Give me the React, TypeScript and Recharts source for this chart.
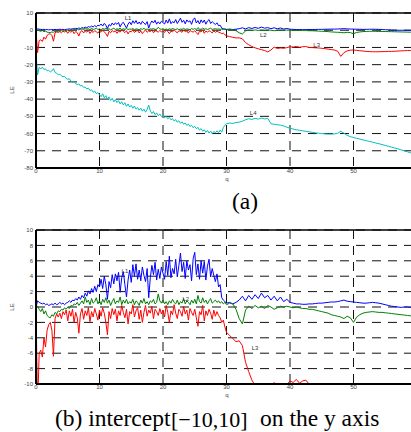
import React from 'react';
import { LineChart, Line, XAxis, YAxis, CartesianGrid, ReferenceLine, ReferenceDot } from 'recharts';

// q values: 0..30 step 0.25, then 30.5..60 step 0.5
const q = [
  0, 0.25, 0.5, 0.75, 1, 1.25, 1.5, 1.75, 2, 2.25, 2.5, 2.75, 3, 3.25, 3.5, 3.75, 4, 4.25, 4.5, 4.75,
  5, 5.25, 5.5, 5.75, 6, 6.25, 6.5, 6.75, 7, 7.25, 7.5, 7.75, 8, 8.25, 8.5, 8.75, 9, 9.25, 9.5, 9.75,
  10, 10.25, 10.5, 10.75, 11, 11.25, 11.5, 11.75, 12, 12.25, 12.5, 12.75, 13, 13.25, 13.5, 13.75, 14, 14.25, 14.5, 14.75,
  15, 15.25, 15.5, 15.75, 16, 16.25, 16.5, 16.75, 17, 17.25, 17.5, 17.75, 18, 18.25, 18.5, 18.75, 19, 19.25, 19.5, 19.75,
  20, 20.25, 20.5, 20.75, 21, 21.25, 21.5, 21.75, 22, 22.25, 22.5, 22.75, 23, 23.25, 23.5, 23.75, 24, 24.25, 24.5, 24.75,
  25, 25.25, 25.5, 25.75, 26, 26.25, 26.5, 26.75, 27, 27.25, 27.5, 27.75, 28, 28.25, 28.5, 28.75, 29, 29.25, 29.5, 29.75,
  30,
  30.5, 31, 31.5, 32, 32.5, 33, 33.5, 34, 34.5, 35, 35.5, 36, 36.5, 37, 37.5, 38, 38.5, 39, 39.5, 40,
  40.5, 41, 41.5, 42, 42.5, 43, 43.5, 44, 44.5, 45, 45.5, 46, 46.5, 47, 47.5, 48, 48.5, 49, 49.5, 50,
  50.5, 51, 51.5, 52, 52.5, 53, 53.5, 54, 54.5, 55, 55.5, 56, 56.5, 57, 57.5, 58, 58.5, 59, 59.5, 60,
];

const L1 = [
  0, 0.8, 0.6, 0.5, 0.4, 0.5, 0.3, 0.4, 0.2, 0.3, 0.4, 0.3, 0.5, 0.3, 0.4, 0.6, 0.4, 0.5, 0.3, 0.5,
  0.6, 0.8, 0.6, 0.9, 0.8, 1.1, 0.9, 1.3, 1.0, 1.5, 1.2, 1.8, 1.4, 2.1, 1.7, 2.4, 1.9, 2.7, 2.0, 2.9,
  2.6, 3.6, 2.4, 4.0, 2.9, 1.0, 3.3, 2.5, 4.2, 3.0, 4.3, 3.4, 4.5, 1.9, 3.8, 4.6, 2.9, 1.3, 3.5, 4.8,
  3.2, 5.5, 4.0, 5.6, 3.6, 4.8, 3.4, 5.2, 4.1, 3.3, 5.0, 1.2, 3.8, 5.4, 4.2, 5.8, 3.5, 4.9, 3.7, 5.2,
  4.4, 3.6, 5.9, 4.1, 6.6, 3.8, 5.0, 4.3, 6.2, 3.9, 5.4, 7.0, 4.6, 5.8, 3.7, 6.0, 4.8, 5.5, 3.4, 6.3,
  7.1, 4.2, 5.6, 3.6, 6.0, 4.4, 5.9, 3.5, 5.3, 6.2, 3.9, 5.0, 4.1, 3.3, 4.3, 2.6, 2.9, 1.2, 0.9, 0.7,
  0.5,
  0.6, 0.4, 0.6, 0.9, 1.4, 0.8, 1.5, 1.0, 1.6, 1.1, 1.8, 1.2, 1.5, 0.9, 1.4, 0.8, 1.3, 0.7, 1.0, 0.6,
  0.5, 0.4, 0.4, 0.35, 0.35, 0.4, 0.4, 0.45, 0.5, 0.5, 0.55, 0.6, 0.65, 0.65, 0.7, 0.8, 0.9, 0.75, 0.7, 0.65,
  0.6, 0.55, 0.5, 0.5, 0.55, 0.6, 0.55, 0.5, 0.4, 0.3, 0.2, 0.1, 0.05, 0, -0.05, 0, 0, -0.05, 0, 0,
];

const L2 = [
  0, 0.1, -0.3, -0.6, -0.2, -0.9, -0.5, -1.1, -1.3, -1.4, -1.0, -1.2, -0.7, -0.9, -0.5, -0.6, -0.3, -0.4, -0.1, -0.3,
  0, -0.2, 0.2, 0.1, 0.4, 0.3, 0.6, 0.2, 0.5, 0.8, 0.4, 1.3, 0.6, 0.9, 0.3, 1.1, 0.5, 0.7, 1.2, 0.4,
  0.8, 0.3, 1.0, 0.6, 1.2, 0.5, 0.9, 0.2, 0.7, 1.1, 0.4, 0.8, 0.6, 1.3, 0.3, 0.9, 0.5, 1.0, 0.4, 0.7,
  0.5, 1.0, 0.3, 0.8, 0.6, 0.2, 0.9, 0.5, 1.1, 0.4, 0.7, 0.3, 0.8, 0.6, 1.0, 0.4, 0.6, 1.7, 0.8, 0.5,
  0.9, 0.4, 0.7, 0.3, 0.8, 0.5, 1.0, 0.6, 0.4, 0.9, 0.3, 0.7, 0.5, 1.1, 0.4, 0.8, 0.6, 0.3, 0.9, 0.5,
  1.0, 0.4, 1.5, 0.7, 0.5, 1.2, 0.6, 0.9, 0.4, 0.8, 1.1, 0.5, 0.7, 0.9, 0.6, 0.8, 0.5, 0.7, 0.4, 0.6,
  0.3,
  0.5, 0.4, -0.3, -1.5, -2.2, -0.4, 0.1, -0.2, 0.2, -0.1, 0.1, -0.2, 0.2, 0, -0.3, -0.1, 0.1, 0, 0.1, 0,
  -0.1, 0, -0.1, -0.2, -0.2, -0.3, -0.3, -0.4, -0.5, -0.6, -0.7, -0.8, -1.0, -1.1, -1.2, -1.3, -1.5, -1.2, -1.4, -2.0,
  -1.3, -1.0, -0.8, -0.7, -0.65, -0.6, -0.65, -0.7, -0.7, -0.75, -0.8, -0.85, -0.9, -0.95, -1.0, -1.05, -1.1, -1.15, -1.2, -1.25,
];

const L3 = [
  0, -13, -6.0, -5.6, -6.5, -4.0, -5.2, -3.0, -2.3, -2.0, -3.0, -6.4, -1.5, -0.9, -1.3, -0.8, -1.5, -0.6, -1.0, -0.4,
  -1.8, -0.5, -1.2, -0.3, -2.0, -0.7, -1.4, -3.4, -0.9, -0.2, -1.6, -0.5, -1.1, -0.1, -1.9, -0.6, -1.3, -0.2, -0.9, -1.7,
  -0.4, -1.2, -0.1, -0.8, -2.0, -3.6, -0.6, -1.5, -0.2, -1.0, -0.3, -1.8, -0.5, -1.1, 0.2, -0.7, -1.4, -0.3, -2.2, -0.6,
  -0.9, 0.3, -1.3, -0.5, -0.1, -1.6, -0.4, -2.0, -0.7, 0.2, -1.2, -0.4, -0.8, 0.1, -1.5, -0.3, -0.6, -1.1, -0.2, -0.9,
  -0.4, -1.3, 0.2, -0.7, -2.0, -0.5, -1.0, 0.3, -0.8, -1.5, -0.3, -0.6, -1.2, 0.1, -0.9, -0.4, -1.7, -0.2, -0.7, -1.1,
  -0.3, -1.4, -2.5, -0.6, -1.0, 0.2, -1.8, -0.5, -1.1, -0.3, -0.8, -1.6, -0.4, -1.2, -0.6, -1.1, -1.4, -2.0, -1.7, -2.6,
  -3.3,
  -3.7, -4.1, -4.5, -4.4, -5.0, -7.2, -8.4, -9.5, -10.2, -10.8, -11.3, -11.8, -12.6, -11.5, -9.8, -10.6, -10.3, -10.5, -10.1, -9.6,
  -9.8, -9.4, -9.9, -9.6, -9.5, -10.0, -10.1, -10.2, -10.3, -10.5, -10.7, -11.0, -11.2, -11.5, -12.2, -15.2, -13.0, -12.0, -11.6, -11.5,
  -11.7, -11.9, -12.1, -12.3, -12.4, -12.5, -12.5, -12.5, -12.4, -12.4, -12.3, -12.3, -12.2, -12.1, -12.0, -11.9, -11.8, -11.8, -11.7, -11.7,
];

const L4 = [
  -13, -26, -21.5, -22.5, -21.4, -22.8, -22.4, -23.6, -23.3, -24.2, -23.6, -22.3, -24.5, -25.0, -25.8, -25.5, -26.5, -27.0, -26.8, -28.0,
  -28.5, -28.2, -29.5, -30.2, -29.8, -31.0, -31.5, -31.2, -32.4, -32.0, -33.2, -33.0, -34.1, -33.6, -35.0, -34.6, -36.0, -35.4, -36.8, -36.2,
  -37.5, -38.6, -36.9, -39.2, -38.0, -40.1, -38.7, -40.8, -39.5, -41.6, -40.2, -42.0, -40.9, -42.8, -41.5, -43.4, -42.1, -44.2, -42.8, -44.6,
  -43.6, -45.3, -44.0, -45.8, -44.9, -46.5, -45.2, -47.0, -45.8, -47.6, -46.0, -43.5, -46.8, -48.4, -47.2, -49.0, -48.0, -49.6, -48.6, -50.1,
  -49.4, -50.8, -50.0, -51.4, -50.6, -52.0, -51.3, -52.7, -51.9, -53.4, -52.6, -54.0, -53.2, -54.6, -53.9, -55.3, -54.5, -55.9, -55.2, -56.6,
  -55.8, -57.2, -56.4, -58.0, -57.1, -58.6, -57.8, -59.3, -58.2, -59.7, -58.5, -60.0, -58.8, -59.6, -58.4, -59.5, -58.0, -59.2, -56.5, -55.2,
  -54.3,
  -53.9, -54.1, -53.6, -53.4, -52.8, -52.0, -51.4, -51.8, -51.2, -51.6, -51.0, -51.5, -51.2, -54.3, -54.6, -54.9, -55.1, -55.6, -56.3, -56.9,
  -57.4, -57.8, -58.1, -58.4, -58.7, -59.0, -59.3, -59.6, -59.8, -60.0, -60.2, -60.3, -60.3, -60.2, -59.8, -58.7, -59.8, -61.0, -61.8, -62.3,
  -62.8, -63.2, -63.7, -64.1, -64.6, -65.0, -65.5, -65.9, -66.4, -66.9, -67.4, -67.9, -68.4, -68.9, -69.5, -70.0, -70.6, -71.2, -71.8, -72.4,
];

const xTicks = [0, 10, 20, 30, 40, 50];
const yTicksA = [10, 0, -10, -20, -30, -40, -50, -60, -70, -80];
const yTicksB = [10, 8, 6, 4, 2, 0, -2, -4, -6, -8, -10];

// label anchors (data coords)
const labelsA = [
  { name: 'L1', q: 14.5, v: 6.9 },
  { name: 'L2', q: 35.8, v: -2.8 },
  { name: 'L3', q: 44.2, v: -8.6 },
  { name: 'L4', q: 34.2, v: -48 },
];
const labelsB = [
  { name: 'L1', q: 14, v: 4.7 },
  { name: 'L2', q: 23.6, v: 1.1 },
  { name: 'L3', q: 34.5, v: -5.3 },
];

const rows = q.map((x, i) => ({ q: x, L1: L1[i], L2: L2[i], L3: L3[i], L4: L4[i] }));

const sans = "'Liberation Sans', Arial, sans-serif";
const tickStyle = { fontSize: 6, fill: '#444', fontFamily: sans };

const Panel = ({ top, height, domain, ticks, labels }: any) => (
  <div style={{ position: 'absolute', left: 0, top }}>
    <LineChart width={417} height={height} data={rows} margin={{ top: 13, right: 0, bottom: 0, left: 0 }}>
      <CartesianGrid stroke="#111" strokeDasharray="9 7" strokeWidth={1} />
      <XAxis
        type="number"
        dataKey="q"
        domain={[0, 60]}
        ticks={xTicks}
        height={22}
        tickLine={false}
        tickSize={1}
        tickMargin={0}
        axisLine={{ stroke: '#000', strokeWidth: 2 }}
        tick={tickStyle}
        interval={0}
        allowDataOverflow
      />
      <YAxis
        type="number"
        domain={domain}
        ticks={ticks}
        width={36}
        tickLine={false}
        tickSize={2}
        tickMargin={1}
        axisLine={{ stroke: '#000', strokeWidth: 2 }}
        tick={tickStyle}
        interval={0}
        allowDataOverflow
      />
      <ReferenceLine y={domain[1]} stroke="#000" strokeWidth={1.6} />
      <Line dataKey="L1" stroke="#0000ff" strokeWidth={1} dot={false} isAnimationActive={false} />
      <Line dataKey="L2" stroke="#008000" strokeWidth={1} dot={false} isAnimationActive={false} />
      <Line dataKey="L3" stroke="#ff0000" strokeWidth={1} dot={false} isAnimationActive={false} />
      <Line dataKey="L4" stroke="#00bfbf" strokeWidth={1} dot={false} isAnimationActive={false} />
      {labels.map((l: any) => (
        <ReferenceDot
          key={l.name}
          x={l.q}
          y={l.v}
          r={0}
          fill="none"
          stroke="none"
          label={{ value: l.name, position: 'center', fontSize: 6, fill: '#333', fontFamily: sans }}
        />
      ))}
    </LineChart>
  </div>
);

const small = { fontSize: 6, fill: '#444', fontFamily: sans };
const serif = { fontFamily: "'Liberation Serif', 'Times New Roman', Times, serif", fontSize: 23.5, fill: '#000' };

export default function App() {
  return (
    <div style={{ position: 'fixed', left: 0, top: 0, width: 411, height: 432, overflow: 'hidden', background: '#fff' }}>
      <Panel top={0} height={190} domain={[-80, 10]} ticks={yTicksA} labels={labelsA} />
      <Panel top={217} height={189} domain={[-10, 10]} ticks={yTicksB} labels={labelsB} />
      <svg width={411} height={432} style={{ position: 'absolute', left: 0, top: 0, pointerEvents: 'none' }}>
        <text x={12} y={90} textAnchor="middle" dominantBaseline="central" transform="rotate(-90 12 90)" style={small}>LE</text>
        <text x={12} y={307} textAnchor="middle" dominantBaseline="central" transform="rotate(-90 12 307)" style={small}>LE</text>
        <text x={227} y={181} textAnchor="middle" style={small}>q</text>
        <text x={227} y={397} textAnchor="middle" style={small}>q</text>
        <text x={245} y={209} textAnchor="middle" style={serif}>(a)</text>
        <text y={426} style={serif}>
          <tspan x={55}>(b) intercept</tspan>
          <tspan x={171} dy={1} style={{ fontSize: 22 }}>[−10,10]</tspan>
          <tspan x={260} dy={-1}>on the y axis</tspan>
        </text>
      </svg>
    </div>
  );
}
